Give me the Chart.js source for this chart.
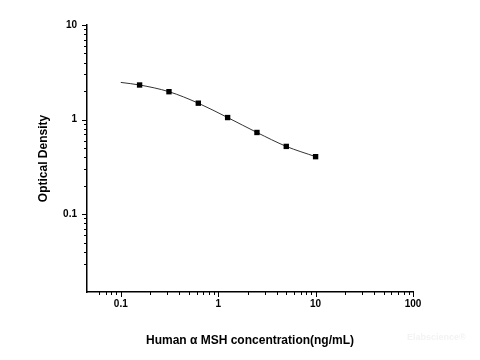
<!DOCTYPE html>
<html>
<head>
<meta charset="utf-8">
<style>
  html, body { margin: 0; padding: 0; background: #fff; }
  #wrap { width: 480px; height: 360px; }
</style>
<script src="https://cdn.jsdelivr.net/npm/chart.js@4/dist/chart.umd.min.js"></script>
</head>
<body>
<div id="wrap"><canvas id="c" width="480" height="360"></canvas></div>
<script>
// Standard points (concentration ng/mL, optical density)
const concentrations = [0.156, 0.3125, 0.625, 1.25, 2.5, 5, 10];
const odValues = [2.32, 1.97, 1.49, 1.05, 0.73, 0.52, 0.405];
// Fitted curve
const curveX = [0.1, 0.156, 0.3125, 0.625, 1.25, 2.5, 5, 10];
const curveY = [2.47, 2.32, 1.97, 1.49, 1.05, 0.73, 0.52, 0.405];
// Axis settings
const xMin = 0.045, xMax = 100;
const yMin = 0.015, yMax = 10;
const majorLabels = ['0.1', '1', '10', '100'];
const yMajorLabels = ['0.1', '1', '10'];
const xTitle = 'Human \u03b1 MSH concentration(ng/mL)';
const yTitle = 'Optical Density';
const watermark = 'Elabscience\u00ae';

const FONT = "'Liberation Sans', Arial, sans-serif";

function isNice(v) {
  const e = Math.floor(Math.log10(v) + 1e-9);
  const s = v / Math.pow(10, e);
  return Math.abs(s - Math.round(s)) < 1e-6;
}
function isPow10(v) {
  const l = Math.log10(v);
  return Math.abs(l - Math.round(l)) < 1e-6;
}

const tickPlugin = {
  id: 'tickMarks',
  afterDraw(chart) {
    const ctx = chart.ctx;
    const xs = chart.scales.x, ys = chart.scales.y;
    ctx.save();
    ctx.strokeStyle = '#000';
    ctx.lineWidth = 1;
    xs.ticks.forEach(t => {
      if (!isNice(t.value)) return;
      const px = Math.round(xs.getPixelForValue(t.value)) + 0.5;
      const len = isPow10(t.value) ? 5 : 3;
      ctx.beginPath();
      ctx.moveTo(px, xs.top);
      ctx.lineTo(px, xs.top + len);
      ctx.stroke();
    });
    ys.ticks.forEach(t => {
      if (!isNice(t.value)) return;
      const py = Math.round(ys.getPixelForValue(t.value)) + 0.5;
      const len = isPow10(t.value) ? 5 : 3;
      ctx.beginPath();
      ctx.moveTo(ys.right, py);
      ctx.lineTo(ys.right - len, py);
      ctx.stroke();
    });
    ctx.fillStyle = '#f3f3f3';
    ctx.font = 'bold 9px ' + FONT;
    ctx.textAlign = 'left';
    ctx.textBaseline = 'middle';
    ctx.fillText(watermark, 407, 338);
    ctx.restore();
  }
};

new Chart(document.getElementById('c'), {
  type: 'scatter',
  data: {
    datasets: [
      {
        label: 'curve',
        data: curveX.map((x, i) => ({x, y: curveY[i]})),
        showLine: true,
        borderColor: '#333',
        borderWidth: 1,
        pointRadius: 0,
        cubicInterpolationMode: 'monotone',
        order: 2
      },
      {
        label: 'standards',
        data: concentrations.map((x, i) => ({x, y: odValues[i]})),
        showLine: false,
        pointStyle: 'rect',
        pointRadius: 3.8,
        backgroundColor: '#000',
        borderColor: '#000',
        borderWidth: 0,
        order: 1
      }
    ]
  },
  options: {
    responsive: false,
    animation: false,
    devicePixelRatio: 1,
    layout: { padding: { top: 25, right: 67, left: 0, bottom: 0 } },
    plugins: { legend: { display: false }, tooltip: { enabled: false } },
    scales: {
      x: {
        type: 'logarithmic',
        min: xMin, max: xMax,
        afterFit(s) { s.height = 68; },
        grid: { display: false, drawTicks: false },
        border: { display: true, color: '#000', width: 1.5 },
        ticks: {
          autoSkip: false, maxRotation: 0, padding: 6,
          color: '#000',
          font: { family: FONT, size: 10, weight: 'bold' },
          callback(v) {
            const lbl = String(+v.toPrecision(6));
            return isPow10(v) && majorLabels.includes(lbl) ? lbl : '';
          }
        },
        title: {
          display: true, text: xTitle, color: '#000',
          font: { family: FONT, size: 12, weight: 'bold' },
          padding: { top: 0, bottom: 12 }
        }
      },
      y: {
        type: 'logarithmic',
        min: yMin, max: yMax,
        afterFit(s) { s.width = 87; },
        grid: { display: false, drawTicks: false },
        border: { display: true, color: '#000', width: 1.5 },
        ticks: {
          autoSkip: false, padding: 10,
          color: '#000',
          font: { family: FONT, size: 10, weight: 'bold' },
          callback(v) {
            const lbl = String(+v.toPrecision(6));
            return isPow10(v) && yMajorLabels.includes(lbl) ? lbl : '';
          }
        },
        title: {
          display: true, text: yTitle, color: '#000',
          font: { family: FONT, size: 12, weight: 'bold' },
          padding: { top: 36, bottom: 0 }
        }
      }
    }
  },
  plugins: [tickPlugin]
});
</script>
</body>
</html>
